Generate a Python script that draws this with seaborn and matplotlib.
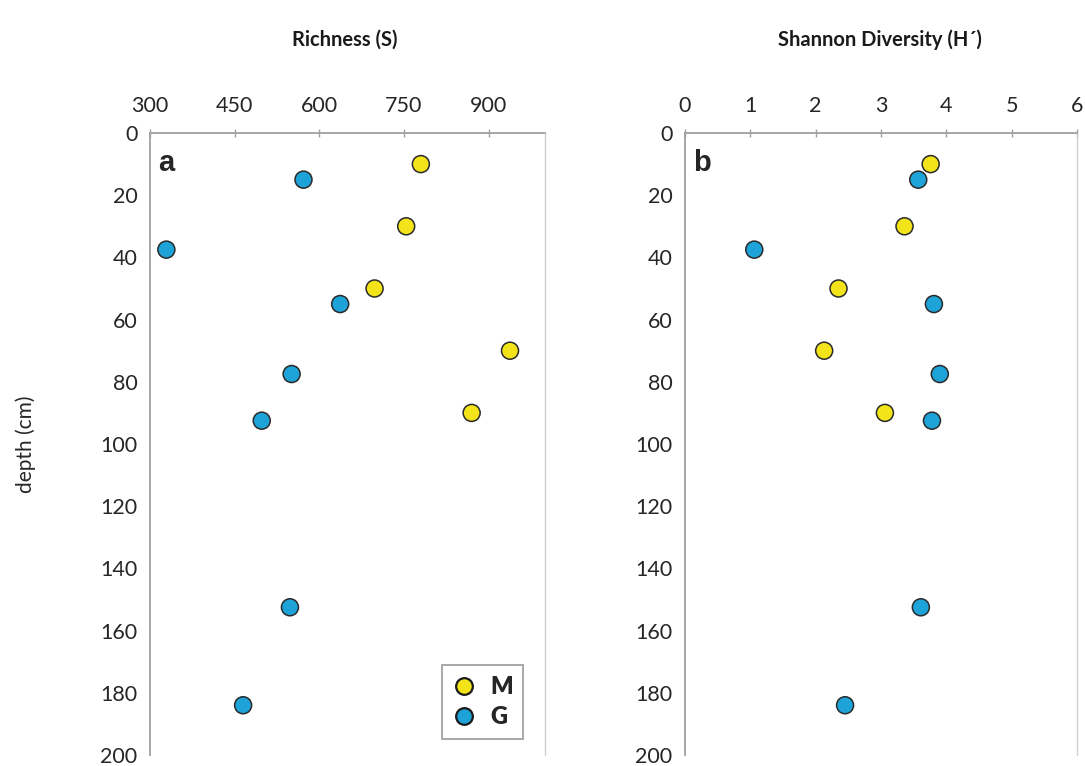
import matplotlib
matplotlib.use("Agg")
import matplotlib.pyplot as plt
import seaborn as sns
import pandas as pd
from matplotlib.lines import Line2D

# ---- data ----
m_depth = [10, 30, 50, 70, 90]
m_richness = [780, 754, 698, 938, 870]
m_shannon = [3.76, 3.36, 2.35, 2.13, 3.06]

g_depth = [15, 37.5, 55, 77.5, 92.5, 152.5, 184]
g_richness = [572, 329, 637, 551, 498, 548, 465]
g_shannon = [3.57, 1.06, 3.81, 3.90, 3.78, 3.61, 2.45]

groups = ["M", "G"]
colors = {"M": "#F3E41A", "G": "#1EA3D8"}

df = pd.DataFrame({
    "depth": m_depth + g_depth,
    "richness": m_richness + g_richness,
    "shannon": m_shannon + g_shannon,
    "group": ["M"] * len(m_depth) + ["G"] * len(g_depth),
})

sns.set_theme(style="white")
plt.rcParams["font.family"] = ["Lato", "DejaVu Sans"]

fig = plt.figure(figsize=(10.85, 7.66), dpi=100)
axa = fig.add_axes([150 / 1085, 1 - 755 / 766, 395 / 1085, 622 / 766])
axb = fig.add_axes([685 / 1085, 1 - 755 / 766, 392 / 1085, 622 / 766])

panels = [
    (axa, "richness", (300, 1000), [300, 450, 600, 750, 900], "a"),
    (axb, "shannon", (0, 6), [0, 1, 2, 3, 4, 5, 6], "b"),
]

for ax, col, xlim, xticks, lab in panels:
    sns.scatterplot(data=df, x=col, y="depth", hue="group", palette=colors,
                    hue_order=groups, s=150, edgecolor="#2a2a2a", linewidth=1.1,
                    legend=False, ax=ax, zorder=3)
    ax.set_xlim(*xlim)
    ax.set_ylim(200, 0)
    ax.set_xticks(xticks)
    ax.set_yticks(range(0, 201, 20))
    ax.xaxis.tick_top()
    ax.xaxis.set_label_position("top")
    ax.set_xlabel("")
    ax.set_ylabel("")
    ax.tick_params(axis="both", labelsize=15.5, colors="#262626", length=6,
                   width=1, direction="inout", pad=6)
    ax.tick_params(axis="x", pad=9)
    ax.tick_params(axis="x", color="#a0a0a0")
    ax.tick_params(axis="y", color="#a0a0a0")
    for s in ["top", "left"]:
        ax.spines[s].set_color("#a0a0a0")
        ax.spines[s].set_linewidth(1.3)
    ax.spines["right"].set_color("#d0d0d0")
    ax.spines["right"].set_linewidth(1.0)
    ax.spines["bottom"].set_visible(False)
    ax.text(0.02, 0.975, lab, transform=ax.transAxes, fontsize=21,
            fontweight="bold", family=["Liberation Sans", "DejaVu Sans"],
            va="top", ha="left")

axa.set_ylabel("depth (cm)", fontsize=15, labelpad=46, color="#262626")

fig.text(345 / 1085, 1 - 40 / 766, "Richness (S)", fontsize=14.5,
         fontweight="bold", ha="center", va="center", color="#1a1a1a")
fig.text(880 / 1085, 1 - 40 / 766, "Shannon Diversity (H\u00b4)", fontsize=14.5,
         fontweight="bold", ha="center", va="center", color="#1a1a1a")

handles = [Line2D([], [], marker="o", linestyle="", markersize=12,
                  markerfacecolor=colors[g], markeredgecolor="#1a1a1a",
                  markeredgewidth=1.6) for g in groups]
leg = axa.legend(handles, groups, loc="lower right",
                 bbox_to_anchor=(0.975, 0.007), fontsize=17, frameon=True,
                 fancybox=False, edgecolor="#8a8a8a", handletextpad=0.6,
                 borderpad=0.45, labelspacing=0.35, handlelength=1.0)
for t in leg.get_texts():
    t.set_fontweight("heavy")
leg.get_frame().set_linewidth(1.3)

fig.savefig("out.png", dpi=100)
